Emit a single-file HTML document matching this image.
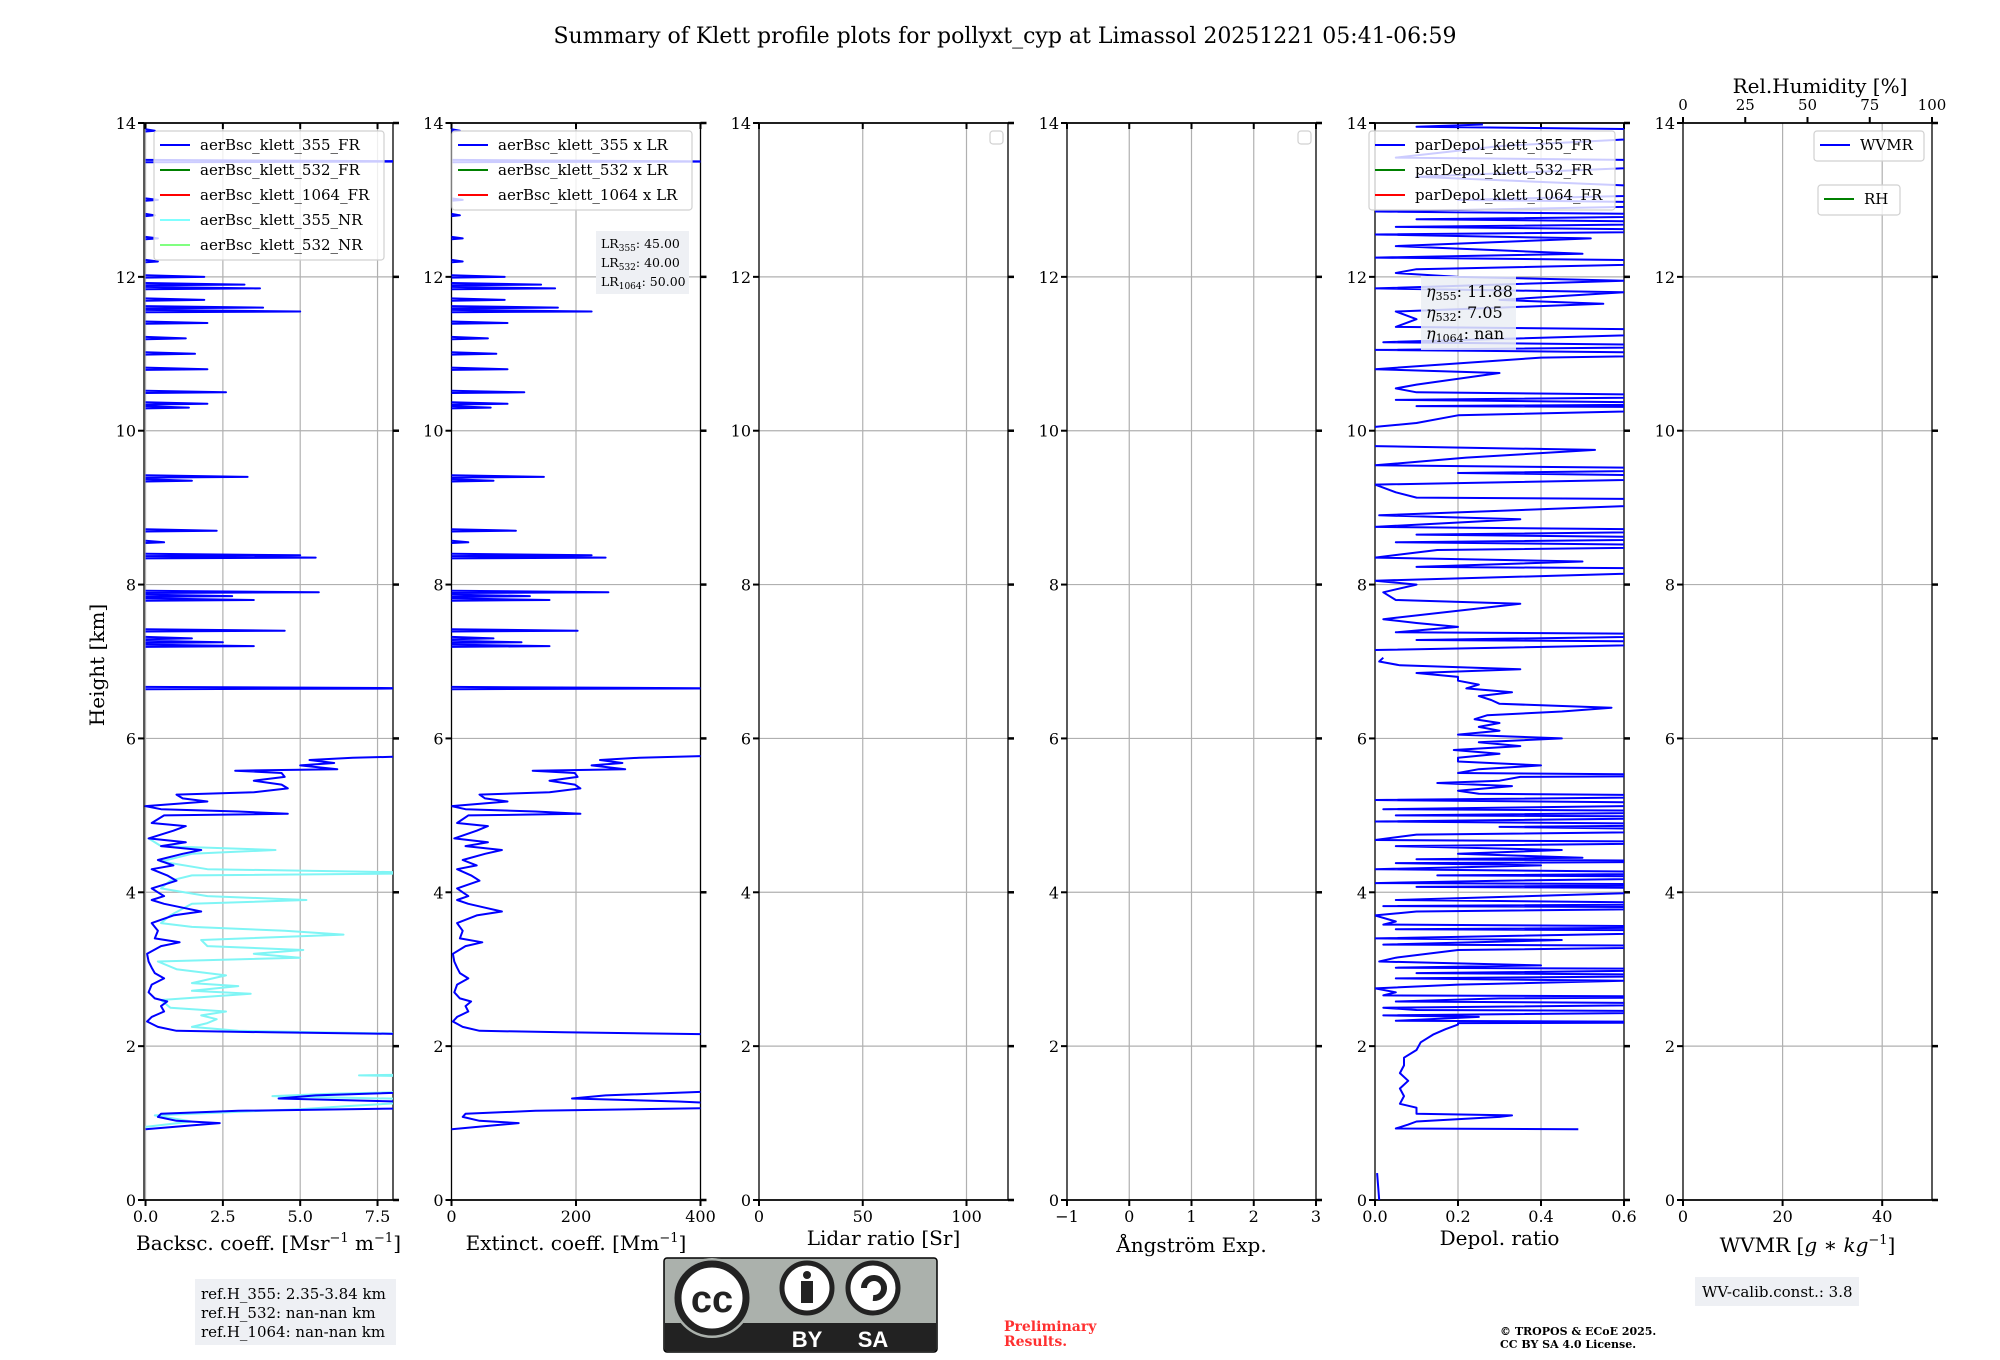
<!DOCTYPE html>
<html><head><meta charset="utf-8">
<style>
html,body{margin:0;padding:0;background:#fff;}
svg{display:block;font-family:"DejaVu Serif","Liberation Serif",serif;}
</style></head>
<body>
<svg id="chart" width="2000" height="1360" viewBox="0 0 2000 1360" xmlns="http://www.w3.org/2000/svg">
<text x="1005" y="43" text-anchor="middle" font-size="22">Summary of Klett profile plots for pollyxt_cyp at Limassol 20251221 05:41-06:59</text>
<g id="panels"></g>
<text transform="translate(104,665) rotate(-90)" text-anchor="middle" font-size="20">Height [km]</text>
<text x="1820" y="93" text-anchor="middle" font-size="20">Rel.Humidity [%]</text>
<g>
<rect x="195" y="1279" width="201" height="66" fill="#eef0f4"/>
<text x="201" y="1299" font-size="15">ref.H_355: 2.35-3.84 km</text>
<text x="201" y="1318" font-size="15">ref.H_532: nan-nan km</text>
<text x="201" y="1337" font-size="15">ref.H_1064: nan-nan km</text>
</g>
<g>
<rect x="664" y="1258" width="273" height="94" rx="3" fill="#abb1ac" stroke="#000" stroke-width="1.5"/>
<rect x="665" y="1323" width="271" height="28" fill="#222"/>
<circle cx="712" cy="1298" r="40" fill="#abb1ac"/>
<circle cx="712" cy="1298" r="34" fill="#fff" stroke="#222" stroke-width="7"/>
<text x="712" y="1312" text-anchor="middle" font-size="38" font-weight="bold" font-family="Liberation Sans,sans-serif" fill="#222">cc</text>
<circle cx="807" cy="1288" r="25" fill="#fff" stroke="#222" stroke-width="5"/>
<circle cx="807" cy="1275" r="4" fill="#222"/><rect x="801" y="1281" width="12" height="22" fill="#222"/>
<circle cx="873" cy="1288" r="25" fill="#fff" stroke="#222" stroke-width="5"/>
<path d="M864 1288 A10 10 0 1 1 873 1298" fill="none" stroke="#222" stroke-width="6"/>
<text x="807" y="1347" text-anchor="middle" font-size="22" font-weight="bold" font-family="Liberation Sans,sans-serif" fill="#fff">BY</text>
<text x="873" y="1347" text-anchor="middle" font-size="22" font-weight="bold" font-family="Liberation Sans,sans-serif" fill="#fff">SA</text>
</g>
<text x="1004" y="1331" font-size="14" font-weight="bold" fill="#ff3030">Preliminary</text>
<text x="1004" y="1346" font-size="14" font-weight="bold" fill="#ff3030">Results.</text>
<text x="1500" y="1335" font-size="11" font-weight="bold">© TROPOS &amp; ECoE 2025.</text>
<text x="1500" y="1348" font-size="11" font-weight="bold">CC BY SA 4.0 License.</text>
<g>
<rect x="1695" y="1277" width="164" height="29" fill="#eef0f4"/>
<text x="1702" y="1297" font-size="15">WV-calib.const.: 3.8</text>
</g>
</svg>
<script>
// ---------- data ----------
const yTicks = [0,2,4,6,8,10,12,14];
const lidarRatios = [45.00, 40.00, 50.00];
const etaValues = ["11.88", "7.05", "nan"];
// backscatter 355 FR [height km, value Mm-1 sr-1], null = gap
const bsc355FR = [[0.92,0],[0.97,1.5],[1.0,2.4],[1.03,1.0],[1.08,0.4],[1.12,0.5],[1.16,3],[1.2,10],[1.25,10],[1.28,8.1],[1.32,4.3],[1.36,5.5],[1.42,10],null,
[2.15,10],[2.18,4],[2.2,1.0],[2.25,0.4],[2.32,0.05],[2.38,0.2],[2.45,0.6],[2.52,0.5],[2.58,0.7],[2.62,0.3],[2.7,0.1],[2.8,0.2],[2.88,0.6],[2.95,0.3],[3.02,0.2],[3.1,0.1],[3.2,0.05],[3.3,0.5],[3.35,1.1],[3.4,0.3],[3.5,0.4],[3.6,0.2],[3.7,0.9],[3.75,1.8],[3.8,1.2],[3.85,0.6],[3.9,0.2],[3.95,0.6],[4.0,0.4],[4.05,0.2],[4.15,1.0],[4.22,0.7],[4.3,0.2],[4.35,0.9],[4.42,0.4],[4.5,1.2],[4.55,1.8],[4.6,0.5],[4.65,1.3],[4.7,0.1],[4.8,0.9],[4.86,1.3],[4.9,0.2],[5.0,0.6],[5.02,4.6],[5.05,3.0],[5.08,0.5],[5.12,0],[5.18,2.0],[5.22,1.2],[5.27,1.0],[5.3,3.5],[5.35,4.6],[5.4,4.4],[5.45,3.5],[5.5,4.5],[5.55,4.4],[5.58,2.9],[5.6,6.2],[5.65,5.0],[5.68,6.1],[5.72,5.3],[5.75,6.7],[5.78,10],null];
const bscSpikeHeights = [6.65,7.2,7.25,7.3,7.4,7.8,7.85,7.9,8.35,8.38,8.55,8.7,9.35,9.4,10.3,10.35,10.5,10.8,11.0,11.2,11.4,11.55,11.6,11.7,11.85,11.9,12.0,12.2,12.5,12.8,13.0,13.5,13.9];
const bscSpikeValues  = [10,3.5,2.5,1.5,4.5,3.5,2.8,5.6,5.5,5.0,0.6,2.3,1.5,3.3,1.4,2.0,2.6,2.0,1.6,1.3,2.0,5.0,3.8,1.9,3.7,3.2,1.9,0.4,0.4,0.3,0.4,10,0.3];
const bsc355NR = [[0.95,0],[1.02,1.5],[1.1,0.3],[1.18,5],[1.22,6.5],[1.3,10],[1.35,4.1],[1.38,6],[1.42,10],null,[1.6,10],[1.62,6.9],[1.64,10],null,[2.15,10],[2.2,3],[2.25,1.5],[2.3,2.0],[2.35,2.3],[2.4,1.8],[2.45,2.6],[2.5,0.8],[2.6,0.5],[2.68,3.4],[2.72,1.5],[2.78,3.0],[2.82,1.5],[2.92,2.6],[3.0,1.0],[3.1,0.4],[3.15,5],[3.2,3.5],[3.25,5.1],[3.3,2.0],[3.38,1.8],[3.45,6.4],[3.5,4.5],[3.55,1.5],[3.6,0.5],[3.7,0.8],[3.85,1.5],[3.9,5.2],[3.95,2],[4.05,0.5],[4.15,0.8],[4.22,1.5],[4.25,10],[4.3,2],[4.4,0.5],[4.5,1.5],[4.55,4.2],[4.6,0.5],[4.7,0.1]];
const depol355 = [[0,0.01],[0.35,0.005],null,[0.92,0.49],[0.93,0.05],[0.98,0.08],[1.02,0.1],[1.08,0.3],[1.1,0.33],[1.12,0.1],[1.2,0.1],[1.25,0.06],[1.35,0.07],[1.45,0.06],[1.55,0.08],[1.65,0.06],[1.75,0.07],[1.85,0.07],[1.95,0.1],[2.05,0.11],[2.15,0.14],[2.22,0.17],[2.28,0.2],
[2.3,0.2],[2.31,1],[2.33,0.05],[2.38,0.25],[2.4,0.02],[2.45,1],[2.47,0.1],[2.5,0.02],[2.55,1],[2.58,0.05],[2.62,0.3],[2.64,1],[2.66,0.02],[2.7,0.05],[2.75,0.0],[2.8,0.2],[2.85,0.6],[2.88,0.05],[2.92,1],[2.95,0.1],[3.0,1],[3.02,0.05],[3.05,0.4],[3.1,0.01],[3.15,0.05],[3.25,0.2],[3.3,1],[3.32,0.02],[3.38,0.45],[3.4,0.0],[3.5,1],[3.52,0.05],[3.55,1],[3.58,0.02],[3.62,0.05],[3.7,0.0],[3.75,0.1],[3.8,1],[3.82,0.02],[3.85,1],[3.9,0.05],[4.05,1],[4.07,0.1],[4.1,1],[4.12,0.0],[4.15,0.3],[4.2,1],[4.22,0.15],[4.25,1],[4.3,0.0],[4.35,0.4],[4.38,0.05],[4.4,1],[4.43,0.1],[4.45,0.5],[4.5,0.2],[4.55,0.45],[4.6,0.05],[4.65,1],[4.68,0.0],[4.75,0.1],[4.8,1],[4.85,0.3],[4.88,1],[4.92,0.0],[4.98,1],[5.0,0.05],[5.05,1],[5.08,0.02],[5.12,0.6],[5.15,1],[5.2,0.0],[5.25,1],[5.28,0.25],
[5.32,0.2],[5.38,0.33],[5.42,0.15],[5.45,0.3],[5.5,0.35],[5.52,1],[5.55,0.2],[5.6,0.25],[5.65,0.4],[5.7,0.2],[5.75,0.2],[5.8,0.3],[5.85,0.19],[5.9,0.35],[5.95,0.25],[6.0,0.45],[6.05,0.2],[6.1,0.3],[6.15,0.25],[6.2,0.3],[6.25,0.24],[6.3,0.27],[6.35,0.45],[6.4,0.57],[6.45,0.3],[6.5,0.28],[6.55,0.25],[6.6,0.33],[6.65,0.22],[6.7,0.25],[6.75,0.2],[6.8,0.2],[6.85,0.1],[6.9,0.35],[6.95,0.06],[7.0,0.01],[7.05,0.02],null,
[7.15,0.0],[7.25,1],[7.28,0.1],[7.35,1],[7.38,0.05],[7.45,0.2],[7.5,0.1],[7.55,0.02],[7.75,0.35],[7.8,0.05],[7.9,0.02],[8.0,0.1],[8.05,0.0],[8.2,1],[8.23,0.1],[8.3,0.5],[8.35,0.0],[8.45,0.15],[8.5,1],[8.55,0.05],[8.6,1],[8.65,0.1],[8.7,1],[8.75,0.0],[8.85,0.35],[8.9,0.01],[9.1,1],[9.13,0.1],[9.2,0.05],[9.3,0.0],[9.4,1],[9.45,0.2],[9.5,1],[9.55,0.0],[9.65,0.22],[9.75,0.53],[9.8,0.0],null,
[10.05,0.0],[10.1,0.1],[10.2,0.2],[10.3,1],[10.32,0.1],[10.35,1],[10.4,0.05],[10.45,1],[10.5,0.1],[10.55,0.05],[10.6,0.1],[10.75,0.3],[10.8,0.0],[10.95,0.4],[11.0,1],[11.05,0.0],[11.1,1],[11.15,0.02],[11.3,1],[11.35,0.05],[11.45,0.1],[11.55,0.05],[11.6,0.3],[11.65,0.55],[11.7,0.3],[11.8,0.6],[11.85,0.0],[11.95,0.6],[12.0,0.2],[12.05,0.05],[12.1,0.1],[12.2,1],[12.25,0.0],[12.3,0.5],[12.4,0.05],[12.5,0.52],[12.55,0.0],[12.6,1],[12.65,0.05],[12.7,1],[12.75,0.1],[12.8,1],[12.85,0.0],[12.95,1],[13.0,0.2],[13.1,1],[13.3,0.1],[13.5,1],[13.55,0.05],[13.7,0.3],[13.9,1],[13.95,0.1],[13.98,0.26]];

// ---------- layout ----------
const NS = "http://www.w3.org/2000/svg";
const TOP = 123, BOT = 1200, PW = 249;
const panelLefts = [144, 451.5, 759, 1067, 1375, 1683];
const panels = [
 {name:"backscatter", xmin:-0.05, xmax:8, ticks:[0,2.5,5,7.5], fmt:v=>v.toFixed(1), title:'Backsc. coeff. [Msr<tspan font-size="13" dy="-8">−1</tspan><tspan dy="8"> m</tspan><tspan font-size="13" dy="-8">−1</tspan><tspan dy="8">]</tspan>', ty:1250},
 {name:"extinction", xmin:0, xmax:400, ticks:[0,200,400], fmt:v=>String(v), title:'Extinct. coeff. [Mm<tspan font-size="13" dy="-8">−1</tspan><tspan dy="8">]</tspan>', ty:1250},
 {name:"lidar-ratio", xmin:0, xmax:120, ticks:[0,50,100], fmt:v=>String(v), title:'Lidar ratio [Sr]', ty:1245},
 {name:"angstrom", xmin:-1, xmax:3, ticks:[-1,0,1,2,3], fmt:v=>v<0?'−'+(-v):String(v), title:'Ångström Exp.', ty:1252},
 {name:"depol", xmin:0, xmax:0.6, ticks:[0,0.2,0.4,0.6], fmt:v=>v.toFixed(1), title:'Depol. ratio', ty:1245},
 {name:"wvmr", xmin:0, xmax:50, ticks:[0,20,40], fmt:v=>String(v), title:'WVMR [<tspan font-style="italic">g</tspan> ∗ <tspan font-style="italic">kg</tspan><tspan font-size="13" dy="-8">−1</tspan><tspan dy="8">]</tspan>', ty:1252}
];
const root = document.getElementById('panels');
function el(tag, attrs, parent){const e=document.createElementNS(NS,tag);for(const k in attrs)e.setAttribute(k,attrs[k]);(parent||root).appendChild(e);return e;}
const yS = h => BOT - (h/14)*(BOT-TOP);
function xS(p,v){return panelLefts[p] + (v-panels[p].xmin)/(panels[p].xmax-panels[p].xmin)*PW;}

panels.forEach((P,i)=>{
  const L = panelLefts[i];
  const g = el('g',{});
  
  
  const cp = el('clipPath',{id:'clip'+i},g); el('rect',{x:L,y:TOP,width:PW,height:BOT-TOP},cp);
  yTicks.forEach(t=>{ if(t>0&&t<14){const ln=el('line',{x1:L,x2:L+PW,y1:yS(t),y2:yS(t),stroke:'#b0b0b0','stroke-width':1.2},g);
     }});
  P.ticks.forEach(t=>{const x=xS(i,t); if(x>L+1&&x<L+PW-1){const ln=el('line',{x1:x,x2:x,y1:TOP,y2:BOT,stroke:'#b0b0b0','stroke-width':1.2},g);
     }});
  el('line',{x1:L,x2:L,y1:TOP,y2:BOT,stroke:'#000','stroke-width':1.3},g);
  el('line',{x1:L+PW,x2:L+PW,y1:TOP,y2:BOT,stroke:'#000','stroke-width':1.3},g);
  el('line',{x1:L,x2:L+PW,y1:BOT,y2:BOT,stroke:'#000','stroke-width':1.8},g);
  el('line',{x1:L,x2:L+PW,y1:TOP,y2:TOP,stroke:'#000','stroke-width':1.8},g);
  yTicks.forEach(t=>{const y=yS(t);
    el('line',{x1:L-6,x2:L,y1:y,y2:y,stroke:'#000','stroke-width':2},g);
    el('line',{x1:L+PW,x2:L+PW+6,y1:y,y2:y,stroke:'#000','stroke-width':2.5},g);
    const tx=el('text',{x:L-8,y:y+6,'text-anchor':'end','font-size':16},g); tx.textContent=String(t);
     
  });
  P.ticks.forEach(t=>{const x=xS(i,t);
    el('line',{x1:x,x2:x,y1:BOT,y2:BOT+6,stroke:'#000','stroke-width':2},g);
    if(i<5) el('line',{x1:x,x2:x,y1:TOP,y2:TOP+6,stroke:'#000','stroke-width':2},g);
    const tx=el('text',{x:x,y:BOT+22,'text-anchor':'middle','font-size':16},g); tx.textContent=P.fmt(t);
     
  });
  const tt=el('text',{x:L+PW/2,y:P.ty,'text-anchor':'middle','font-size':20},g); tt.innerHTML=P.title;
   
});

const rhTicks=[0,25,50,75,100];
rhTicks.forEach(t=>{const x=panelLefts[5]+t/100*PW;
  el('line',{x1:x,x2:x,y1:TOP-6,y2:TOP,stroke:'#000','stroke-width':2});
  const tx=el('text',{x:x,y:110,'text-anchor':'middle','font-size':15}); tx.textContent=String(t);
   
});

function profilePath(p, data, fn){
  let d='', pen=false;
  data.forEach(pt=>{ if(!pt){pen=false;return;}
    const v = fn?fn(pt[1]):pt[1];
    d += (pen?'L':'M') + xS(p,v).toFixed(1)+' '+yS(pt[0]).toFixed(1)+' '; pen=true; });
  return d;
}
function spikePath(p, hs, vs, fn){
  let d='';
  hs.forEach((h,k)=>{const v=fn?fn(vs[k]):vs[k];
    d+='M'+xS(p,0).toFixed(1)+' '+yS(h-0.01).toFixed(1)+' L'+xS(p,v).toFixed(1)+' '+yS(h).toFixed(1)+' L'+xS(p,0).toFixed(1)+' '+yS(h+0.02).toFixed(1)+' ';});
  return d;
}
function drawLine(p,d,color,w,name){
  const pa=el('path',{d:d,fill:'none',stroke:color,'stroke-width':w,'clip-path':'url(#clip'+p+')','stroke-linejoin':'round'});
  
  
}
drawLine(0, profilePath(0,bsc355NR), '#7ff5f5', 2, 'bsc-355-nr-line');
drawLine(0, profilePath(0,bsc355FR), '#0000ff', 2, 'bsc-355-fr-line');
drawLine(0, spikePath(0,bscSpikeHeights,bscSpikeValues), '#0000ff', 2, 'bsc-355-fr-upper');
const ext = v => v*lidarRatios[0];
drawLine(1, profilePath(1,bsc355FR,ext), '#0000ff', 2, 'ext-355-line');
drawLine(1, spikePath(1,bscSpikeHeights,bscSpikeValues,ext), '#0000ff', 2, 'ext-355-upper');
drawLine(4, profilePath(4,depol355), '#0000ff', 2, 'depol-355-line');

function legend(x,y,w,h,entries,name,fs){
  const g=el('g',{});
  
  
  el('rect',{x:x,y:y,width:w,height:h,rx:3,fill:'rgba(255,255,255,0.8)',stroke:'#d0d0d0','stroke-width':1.2},g);
  entries.forEach((e,k)=>{const cy=y+14+k*25;
    el('line',{x1:x+6,x2:x+36,y1:cy,y2:cy,stroke:e[1],'stroke-width':2},g);
    const t=el('text',{x:x+46,y:cy+5,'font-size':fs||15},g); t.textContent=e[0];
     
  });
}
legend(154,131,230,129,[['aerBsc_klett_355_FR','#0000ff'],['aerBsc_klett_532_FR','#008000'],['aerBsc_klett_1064_FR','#ff0000'],['aerBsc_klett_355_NR','#80ffff'],['aerBsc_klett_532_NR','#80ff80']],'legend-backscatter');
legend(452,131,240,79,[['aerBsc_klett_355 x LR','#0000ff'],['aerBsc_klett_532 x LR','#008000'],['aerBsc_klett_1064 x LR','#ff0000']],'legend-extinction');
legend(1369,131,246,79,[['parDepol_klett_355_FR','#0000ff'],['parDepol_klett_532_FR','#008000'],['parDepol_klett_1064_FR','#ff0000']],'legend-depol');
legend(1814,131,110,30,[['WVMR','#0000ff']],'legend-wvmr');
legend(1818,185,82,30,[['RH','#008000']],'legend-rh');
[[990,131],[1298,131]].forEach((p,k)=>{const r=el('rect',{x:p[0],y:p[1],width:13,height:13,rx:3,fill:'#fff',stroke:'#d0d0d0','stroke-width':1.2});
  
  });

const lrG=el('g',{});


el('rect',{x:596,y:231,width:93,height:63,fill:'#eef0f4'},lrG);
['355','532','1064'].forEach((w,k)=>{const t=el('text',{x:601,y:248+k*19,'font-size':12.5},lrG);
  t.innerHTML='LR<tspan font-size="9" dy="3">'+w+'</tspan><tspan dy="-3">: '+lidarRatios[k].toFixed(2)+'</tspan>';});
const etG=el('g',{});


el('rect',{x:1421,y:276,width:95,height:74,fill:'rgba(235,238,244,0.85)'},etG);
['355','532','1064'].forEach((w,k)=>{const t=el('text',{x:1426,y:297+k*21,'font-size':16},etG);
  t.innerHTML='<tspan font-style="italic">η</tspan><tspan font-size="11" dy="3">'+w+'</tspan><tspan dy="-3">: '+etaValues[k]+'</tspan>';});
</script>
</body></html>
